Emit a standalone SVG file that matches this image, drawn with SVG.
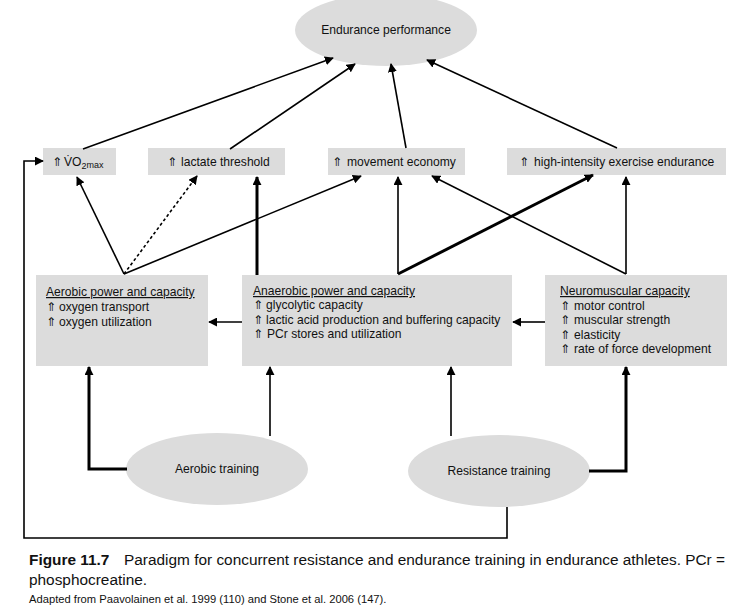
<svg xmlns="http://www.w3.org/2000/svg" width="740" height="609" viewBox="0 0 740 609">
<style>
text{font-family:"Liberation Sans","DejaVu Sans",Arial,sans-serif;fill:#111;}
.n{font-size:12.1px;}
.u{text-decoration:underline;}
.box{fill:#dcdcdc;}
.ell{fill:#dcdcdc;}
.c{fill:none;stroke:#000;stroke-width:1.6;}
.k{fill:none;stroke:#000;stroke-width:3;}
.d{stroke-dasharray:3,2.5;}
.ar{font-family:"DejaVu Sans",sans-serif;font-size:12px;}
.cap{font-size:15.4px;}
.src{font-size:11.2px;}
</style>
<defs>
<marker id="a" viewBox="0 0 10 10" refX="9" refY="5" markerWidth="9" markerHeight="9" markerUnits="userSpaceOnUse" orient="auto"><path d="M0,0 L10,5 L0,10 Z" fill="#000"/></marker>
<marker id="ak" viewBox="0 0 10 10" refX="9" refY="5" markerWidth="9" markerHeight="9" markerUnits="userSpaceOnUse" orient="auto"><path d="M0,0 L10,5 L0,10 Z" fill="#000"/></marker>
</defs>

<g id="endurance">
<ellipse class="ell" cx="386" cy="30" rx="91" ry="36"/>
<text class="n" x="386" y="34" text-anchor="middle">Endurance performance</text>
</g>

<g id="vo2max">
<rect class="box" x="43" y="148" width="73" height="27"/>
<text class="n" x="52" y="166"><tspan class="ar">⇑</tspan><tspan x="64">V̇O</tspan><tspan font-size="9" dy="3">2</tspan><tspan font-size="9" dy="-1">max</tspan></text>
</g>

<g id="lactate">
<rect class="box" x="148" y="148" width="137" height="27"/>
<text class="n" x="167" y="166"><tspan class="ar">⇑</tspan><tspan x="181">lactate threshold</tspan></text>
</g>

<g id="economy">
<rect class="box" x="328" y="148" width="137" height="27"/>
<text class="n" x="332" y="166"><tspan class="ar">⇑</tspan><tspan x="347">movement economy</tspan></text>
</g>

<g id="highintensity">
<rect class="box" x="507" y="148" width="219" height="27"/>
<text class="n" x="519" y="166"><tspan class="ar">⇑</tspan><tspan x="534">high-intensity exercise endurance</tspan></text>
</g>

<g id="aerobic">
<rect class="box" x="36" y="275" width="172" height="91"/>
<text class="n u" x="46" y="296">Aerobic power and capacity</text>
<text class="n" x="46" y="311"><tspan class="ar">⇑</tspan><tspan x="59">oxygen transport</tspan></text>
<text class="n" x="46" y="326"><tspan class="ar">⇑</tspan><tspan x="59">oxygen utilization</tspan></text>
</g>

<g id="anaerobic">
<rect class="box" x="242" y="275" width="270" height="91"/>
<text class="n u" x="253" y="295">Anaerobic power and capacity</text>
<text class="n" x="253" y="309"><tspan class="ar">⇑</tspan><tspan x="266">glycolytic capacity</tspan></text>
<text class="n" x="253" y="324"><tspan class="ar">⇑</tspan><tspan x="266">lactic acid production and buffering capacity</tspan></text>
<text class="n" x="253" y="338"><tspan class="ar">⇑</tspan><tspan x="267">PCr stores and utilization</tspan></text>
</g>

<g id="neuromuscular">
<rect class="box" x="545" y="275" width="182" height="91"/>
<text class="n u" x="560" y="295">Neuromuscular capacity</text>
<text class="n" x="560" y="310"><tspan class="ar">⇑</tspan><tspan x="574">motor control</tspan></text>
<text class="n" x="560" y="324"><tspan class="ar">⇑</tspan><tspan x="574">muscular strength</tspan></text>
<text class="n" x="560" y="339"><tspan class="ar">⇑</tspan><tspan x="574">elasticity</tspan></text>
<text class="n" x="560" y="353"><tspan class="ar">⇑</tspan><tspan x="574">rate of force development</tspan></text>
</g>

<g id="aerobic-training">
<ellipse class="ell" cx="217" cy="469" rx="91" ry="36"/>
<text class="n" x="217" y="473" text-anchor="middle">Aerobic training</text>
</g>

<g id="resistance-training">
<ellipse class="ell" cx="499" cy="471" rx="91" ry="36"/>
<text class="n" x="499" y="475" text-anchor="middle">Resistance training</text>
</g>

<g id="connectors">
<path class="c" d="M83,149 L333,58" marker-end="url(#a)"/>
<path class="c" d="M230,149 L355,64" marker-end="url(#a)"/>
<path class="c" d="M406,148 L391,64" marker-end="url(#a)"/>
<path class="c" d="M617,148 L427,60" marker-end="url(#a)"/>
<path class="c" d="M124,274 L77,177" marker-end="url(#a)"/>
<path class="c d" d="M124,274 L197,176" marker-end="url(#a)"/>
<path class="c" d="M124,274 L361,176" marker-end="url(#a)"/>
<path class="k" d="M257,275 L257,177" marker-end="url(#ak)"/>
<path class="c" d="M398,274 L398,177" stroke-width="2" marker-end="url(#a)"/>
<path class="k" d="M398,274 L593,175" marker-end="url(#ak)"/>
<path class="c" d="M626,274 L626,177" stroke-width="2" marker-end="url(#a)"/>
<path class="c" d="M626,274 L432,176" marker-end="url(#a)"/>
<path class="c" d="M242,322 L209,322" stroke-width="2" marker-end="url(#a)"/>
<path class="c" d="M545,322 L513,322" stroke-width="2" marker-end="url(#a)"/>
<path class="k" d="M127,469 L89,469 L89,367" marker-end="url(#ak)"/>
<path class="c" d="M270,436 L270,367" stroke-width="2" marker-end="url(#a)"/>
<path class="c" d="M451,436 L451,367" stroke-width="2" marker-end="url(#a)"/>
<path class="k" d="M589,471 L626,471 L626,367" marker-end="url(#ak)"/>
<path class="c" d="M507,507 L507,538 L24,538 L24,161 L43,161" marker-end="url(#a)"/>
</g>

<text class="cap" x="29" y="565"><tspan font-weight="bold">Figure 11.7</tspan><tspan x="124">Paradigm for concurrent resistance and endurance training in endurance athletes. PCr =</tspan></text>
<text class="cap" x="29" y="585">phosphocreatine.</text>
<text class="src" x="29" y="603">Adapted from Paavolainen et al. 1999 (110) and Stone et al. 2006 (147).</text>
</svg>
